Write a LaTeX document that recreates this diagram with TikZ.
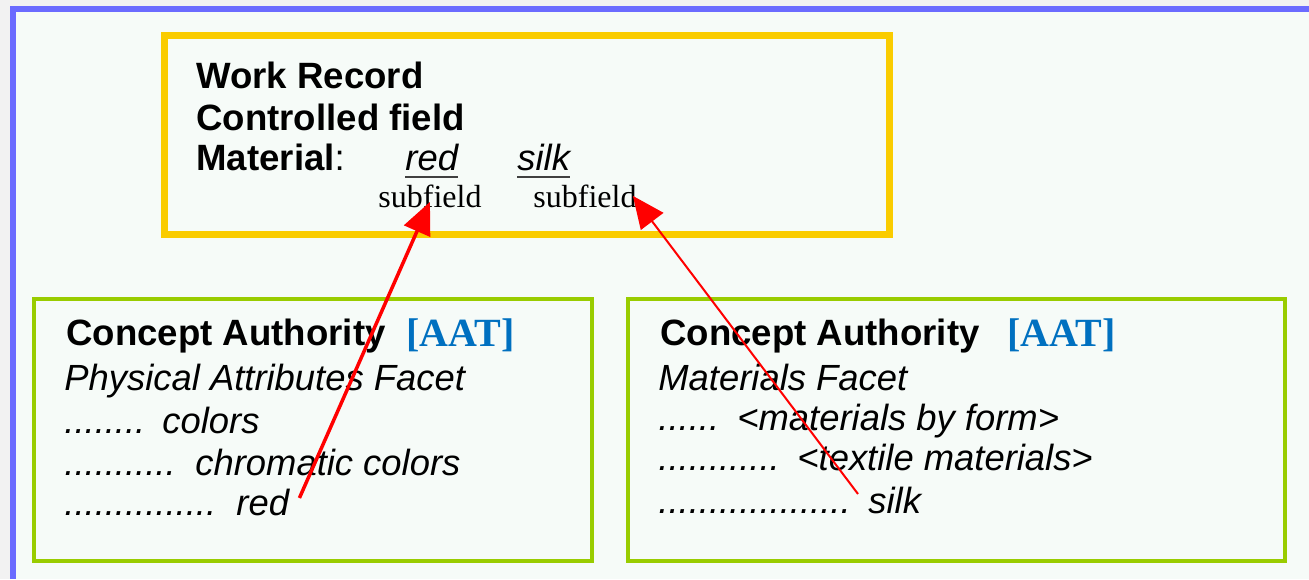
\documentclass[tikz,border=0pt]{standalone}
\usepackage{fontspec}
\setmainfont{Liberation Serif}
\setsansfont{Liberation Sans}
\usetikzlibrary{arrows.meta}
\definecolor{pagegray}{HTML}{F2F2F2}
\definecolor{panel}{HTML}{F6FBF8}
\definecolor{frameblue}{HTML}{6B6BFF}
\definecolor{recyellow}{HTML}{FACC00}
\definecolor{authgreen}{HTML}{99CC00}
\definecolor{aatblue}{HTML}{0070C0}

\begin{document}
\begin{tikzpicture}[x=0.5pt,y=-0.5pt,
	hd/.style={anchor=base west,inner sep=0pt,font=\sffamily\bfseries\fontsize{18.3}{21}\selectfont},
	txt/.style={anchor=base west,inner sep=0pt,font=\sffamily\itshape\fontsize{18.2}{21}\selectfont},
	aat/.style={anchor=base west,inner sep=0pt,text=aatblue,font=\rmfamily\bfseries\fontsize{20}{24}\selectfont},
	sub/.style={anchor=base west,inner sep=0pt,font=\rmfamily\fontsize{16}{19}\selectfont},
	link/.style={draw=red,arrows=-{Triangle[length=16pt,width=14pt]}}]
						\useasboundingbox (0,0) rectangle (1309,579);
						\fill[pagegray] (0,0) rectangle (1309,579);
						\fill[panel] (13,9) rectangle (1309,579);
						\draw[frameblue,line width=3pt] (13,579) -- (13,9) -- (1309,9);
						
						% work record
						\draw[recyellow,line width=3.5pt] (164,35) rectangle (889,234);
						\node[hd] (wr) at (196,88) {Work Record};
						\node[hd] (cf) at (196,130) {Controlled field};
						\node[hd] (mat) at (196,170) {Material\mdseries:};
						\node[txt] (redW) at (405,170) {red};
						\node[txt] (silkW) at (517,170) {silk};
						\draw[black!75,line width=1.25pt] ([yshift=-3.5pt]redW.base west) -- ([yshift=-3.5pt]redW.base east);
						\draw[black!75,line width=1.25pt] ([yshift=-3.5pt]silkW.base west) -- ([yshift=-3.5pt]silkW.base east);
						\node[sub] (sub1) at (378,207) {subfield};
						\node[sub] (sub2) at (533,207) {subfield};
						
						% physical attributes
						\draw[authgreen,line width=2pt] (34,299) rectangle (592,561);
						\node[hd] (caL) at (66,345) {Concept Authority};
						\node[aat] (aatL) at (406,346) {[AAT]};
						\node[txt] (facetL) at (64,390) {Physical Attributes Facet};
						\node[txt] (d1L) at (64,433) {........};
						\node[txt] (colors) at (162,433) {colors};
						\node[txt] (d2L) at (64,475) {...........};
						\node[txt] (chrom) at (195,475) {chromatic colors};
						\node[txt] (d3L) at (64,515) {...............};
						\node[txt] (redL) at (236,515) {red};
						
						% materials
						\draw[authgreen,line width=2pt] (628,299) rectangle (1285,561);
						\node[hd] (caR) at (660,345) {Concept Authority};
						\node[aat] (aatR) at (1007,346) {[AAT]};
						\node[txt] (facetR) at (658,390) {Materials Facet};
						\node[txt] (d1R) at (658,430) {......};
						\node[txt] (byform) at (737,430) {<materials by form>};
						\node[txt] (d2R) at (658,470) {............};
						\node[txt] (textile) at (797,470) {<textile materials>};
						\node[txt] (d3R) at (658,513) {...................};
						\node[txt] (silkR) at (868,513) {silk};
						
						\draw[link,line width=1.75pt] ([xshift=5pt,yshift=2pt]redL.east) -- ([yshift=-3pt]sub1.center);
						\draw[link,line width=1pt] ([xshift=-5pt,yshift=3pt]silkR.west) -- ([xshift=-2pt]sub2.east);
\end{tikzpicture}
\end{document}
